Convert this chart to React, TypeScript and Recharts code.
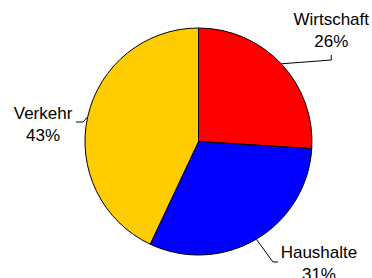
import { PieChart, Pie, Cell } from "recharts";

// Anteile nach Sektor (%)
const categories = ["Wirtschaft", "Haushalte", "Verkehr"];
const shares = [26, 31, 43];
const colors = ["#FF0000", "#0000FF", "#FFCC00"];

// Beschriftung relativ zum Randpunkt des Segments (Führungslinie + Text)
const labelLayout = [
  { tx: 50, ty: -38.8, line: [[0, 0], [50, -3.8], [50, -8.8]] },
  { tx: 62.7, ty: 19.3, line: [[0, 0], [16.7, 22.8], [21.7, 22.8]] },
  { tx: -44.7, ty: 2.3, line: [[0, 0], [-4.7, 5.3], [-11.7, 5.3]] },
];

const data = categories.map((name, i) => ({ name, value: shares[i] }));

const RAD = Math.PI / 180;

const renderLabel = (props: any) => {
  const { cx, cy, midAngle, outerRadius, index, value, name } = props;
  const ex = cx + outerRadius * Math.cos(-midAngle * RAD);
  const ey = cy + outerRadius * Math.sin(-midAngle * RAD);
  const l = labelLayout[index];
  const pts = l.line.map(([dx, dy]) => `${ex + dx},${ey + dy}`).join(" ");
  return (
    <g>
      <polyline points={pts} fill="none" stroke="#000" strokeWidth={1} />
      <text
        x={ex + l.tx}
        y={ey + l.ty}
        textAnchor="middle"
        fill="#000"
        fontSize={17}
        fontFamily="'Liberation Sans', Arial, sans-serif"
      >
        <tspan x={ex + l.tx}>{name}</tspan>
        <tspan x={ex + l.tx} dy={21.5}>
          {value}%
        </tspan>
      </text>
    </g>
  );
};

export default function App() {
  return (
    <div style={{ position: "absolute", left: 0, top: 0, width: 372, height: 278, background: "#fff" }}>
      <PieChart width={372} height={278} margin={{ top: 0, right: 0, bottom: 0, left: 0 }}>
        <Pie
          data={data}
          dataKey="value"
          nameKey="name"
          cx={198.5}
          cy={141.5}
          outerRadius={113.5}
          startAngle={90}
          endAngle={-270}
          stroke="#000"
          strokeWidth={1}
          label={renderLabel}
          labelLine={false}
          isAnimationActive={false}
        >
          {data.map((d, i) => (
            <Cell key={d.name} fill={colors[i]} />
          ))}
        </Pie>
      </PieChart>
    </div>
  );
}
